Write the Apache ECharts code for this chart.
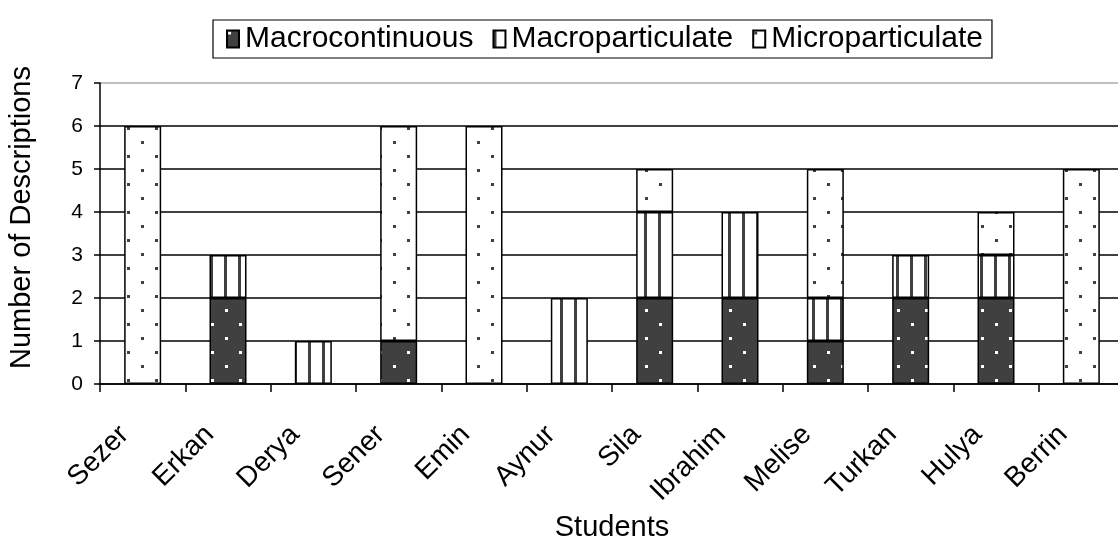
<!DOCTYPE html>
<html>
<head>
<meta charset="utf-8">
<script src="https://cdn.jsdelivr.net/npm/echarts@6/dist/echarts.min.js"></script>
<style>
  html, body { margin: 0; padding: 0; background: #fff; }
  #chart { width: 1118px; height: 542px; }
</style>
</head>
<body>
<div id="chart"></div>
<script>
var students = ['Sezer', 'Erkan', 'Derya', 'Sener', 'Emin', 'Aynur', 'Sila', 'Ibrahim', 'Melise', 'Turkan', 'Hulya', 'Berrin'];
var macrocontinuous = [0, 2, 0, 1, 0, 0, 2, 2, 1, 2, 2, 0];
var macroparticulate = [0, 1, 1, 0, 0, 2, 2, 2, 1, 1, 1, 0];
var microparticulate = [6, 0, 0, 5, 6, 0, 1, 0, 3, 0, 1, 5];
var yTicks = [0, 1, 2, 3, 4, 5, 6, 7];

// pattern tiles for the black & white fills
function makeTile(bg, fg, kind) {
    var c = document.createElement('canvas');
    c.width = 28; c.height = 28;
    var g = c.getContext('2d');
    g.fillStyle = bg;
    g.fillRect(0, 0, 28, 28);
    g.fillStyle = fg;
    if (kind === 'dots') {
        g.fillRect(1, 1, 3, 3);
        g.fillRect(15, 15, 3, 3);
    } else {
        g.fillRect(0, 0, 3, 28);
        g.fillRect(14, 0, 3, 28);
    }
    return c;
}
var darkDots = { image: makeTile('#404040', '#ffffff', 'dots'), repeat: 'repeat' };
var vLines = { image: makeTile('#ffffff', '#404040', 'lines'), repeat: 'repeat' };
var lightDots = { image: makeTile('#ffffff', '#404040', 'dots'), repeat: 'repeat' };

function zeroToNull(arr) {
    return arr.map(function (v) { return v === 0 ? null : v; });
}

var font = 'Liberation Sans, Arial, sans-serif';
var myChart = echarts.init(document.getElementById('chart'));

function barSeries(name, data, fill) {
    return {
        name: name,
        type: 'bar',
        stack: 'total',
        barWidth: 37,
        data: zeroToNull(data),
        itemStyle: { color: fill, borderColor: '#000', borderWidth: 1.5 },
        emphasis: { disabled: true }
    };
}

var option = {
    backgroundColor: '#fff',
    animation: false,
    legend: {
        left: 213,
        top: 20,
        padding: [4, 9, 4, 13],
        borderColor: '#000',
        borderWidth: 1.2,
        icon: 'rect',
        itemWidth: 12,
        itemHeight: 17,
        itemGap: 19,
        textStyle: { fontFamily: font, fontSize: 30, color: '#000', padding: [0, 0, 0, 1] },
        data: ['Macrocontinuous', 'Macroparticulate', 'Microparticulate']
    },
    grid: { left: 100, top: 83, width: 1024, height: 301, outerBoundsMode: 'none' },
    xAxis: {
        type: 'category',
        data: students,
        name: 'Students',
        nameLocation: 'middle',
        nameGap: 127,
        nameTextStyle: { fontFamily: font, fontSize: 29, color: '#000' },
        axisLine: { lineStyle: { color: '#000', width: 1.5 } },
        axisTick: { show: true, alignWithLabel: false, length: 8, lineStyle: { color: '#000', width: 1.5 } },
        axisLabel: { rotate: 45, margin: 28, padding: [0, 26, 0, 0], fontFamily: font, fontSize: 28, color: '#000' }
    },
    yAxis: {
        type: 'value',
        min: yTicks[0],
        max: yTicks[yTicks.length - 1],
        interval: 1,
        name: 'Number of Descriptions',
        nameLocation: 'middle',
        nameGap: 64,
        nameTextStyle: { fontFamily: font, fontSize: 29, color: '#000', padding: [0, 0, 0, 32] },
        axisLine: { show: true, lineStyle: { color: '#000', width: 1.5 } },
        axisTick: { show: true, inside: false, length: 6, lineStyle: { color: '#000', width: 1.5 } },
        axisLabel: { margin: 17, fontFamily: font, fontSize: 21, color: '#000' },
        splitLine: {
            show: true,
            lineStyle: { color: ['#000', '#000', '#000', '#000', '#000', '#000', '#000', '#aaa'], width: 1.5 }
        }
    },
    series: [
        barSeries('Macrocontinuous', macrocontinuous, darkDots),
        barSeries('Macroparticulate', macroparticulate, vLines),
        barSeries('Microparticulate', microparticulate, lightDots)
    ]
};

myChart.setOption(option);
</script>
</body>
</html>
